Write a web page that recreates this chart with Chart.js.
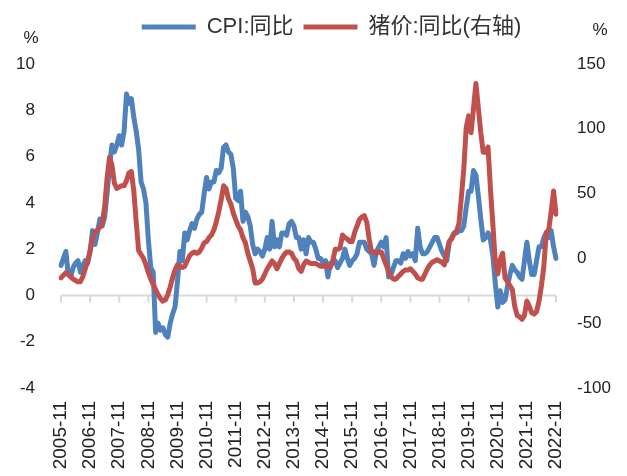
<!DOCTYPE html>
<html>
<head>
<meta charset="utf-8">
<script src="https://cdn.jsdelivr.net/npm/chart.js@4"></script>
<style>
  html, body { margin: 0; padding: 0; background: #fff; }
</style>
</head>
<body>
<canvas id="chart" width="627" height="476"></canvas>
<script>
// monthly categories, 2005-11 .. 2022-11
const months = [];
for (let y = 2005, m = 11; y < 2022 || (y === 2022 && m <= 11); m++) {
    if (m > 12) { m = 1; y++; }
    months.push(y + '-' + String(m).padStart(2, '0'));
}

// CPI yoy, %
const cpi = [
    1.3, 1.6,
    1.9, 0.9, 0.8, 1.2, 1.4, 1.5, 1.0, 1.3, 1.5, 1.4, 1.9, 2.8,
    2.2, 2.7, 3.3, 3.0, 3.4, 4.4, 5.6, 6.5, 6.2, 6.5, 6.9, 6.5,
    7.1, 8.7, 8.3, 8.5, 7.7, 7.1, 6.3, 4.9, 4.6, 4.0, 2.4, 1.2,
    1.0, -1.6, -1.2, -1.5, -1.4, -1.7, -1.8, -1.2, -0.8, -0.5, 0.6, 1.9,
    1.5, 2.7, 2.4, 2.8, 3.1, 2.9, 3.3, 3.5, 3.6, 4.4, 5.1, 4.6,
    4.9, 4.9, 5.4, 5.3, 5.5, 6.4, 6.5, 6.2, 6.1, 5.5, 4.2, 4.1,
    4.5, 3.2, 3.6, 3.4, 3.0, 2.2, 1.8, 2.0, 1.9, 1.7, 2.0, 2.5,
    2.0, 3.2, 2.1, 2.4, 2.1, 2.7, 2.7, 2.6, 3.1, 3.2, 3.0, 2.5,
    2.5, 2.0, 2.4, 1.8, 2.5, 2.3, 2.3, 2.0, 1.6, 1.6, 1.4, 1.5,
    0.8, 1.4, 1.4, 1.5, 1.2, 1.4, 1.6, 2.0, 1.6, 1.3, 1.5, 1.6,
    1.8, 2.3, 2.3, 2.3, 2.0, 1.9, 1.8, 1.3, 1.9, 2.1, 2.3, 2.1,
    2.5, 0.8, 0.9, 1.2, 1.5, 1.5, 1.4, 1.8, 1.6, 1.9, 1.7, 1.8,
    1.5, 2.9, 2.1, 1.8, 1.8, 1.9, 2.1, 2.3, 2.5, 2.5, 2.2, 1.9,
    1.7, 1.5, 2.3, 2.5, 2.7, 2.7, 2.8, 2.8, 3.0, 3.8, 4.5, 4.5,
    5.4, 5.2, 4.3, 3.3, 2.4, 2.5, 2.7, 2.4, 1.7, 0.5, -0.5, 0.2,
    -0.3, -0.2, 0.4, 0.9, 1.3, 1.1, 1.0, 0.8, 0.7, 1.5, 2.3, 1.5,
    0.9, 0.9, 1.5, 2.1, 2.1, 2.5, 2.7, 2.5, 2.8, 2.1, 1.6
];

// pig price yoy, % (right axis)
const pig = [
    -15, -13,
    -11, -12, -14, -16, -17, -18, -18, -14, -8, -2, 6, 16,
    20, 22, 24, 27, 40, 62, 78, 72, 58, 54, 55, 56,
    56, 60, 66, 67, 52, 28, 6, 3, 0, -5, -11, -16,
    -20, -24, -28, -31, -33, -32, -28, -22, -15, -9, -5, -6,
    -7, -6, -2, 2, 4, 5, 4, 5, 8, 12, 13, 16,
    18, 22, 28, 36, 45, 56, 54, 46, 42, 35, 30, 25,
    22, 16, 12, 4, -2, -8, -19, -19, -18, -16, -12, -8,
    -5, -2, -4, -8, -4, 0, 3, 5, 5, 4, 0, -2,
    -8, -10, -5, -2, -3, -4, -4, -4, -5, -6, -6, -5,
    -6, -7, -2, 7, 7, 8, 18, 16, 15, 13, 13, 20,
    25, 30, 32, 33, 28, 15, 5, 5, 4, 5, 5, 0,
    -5, -10, -14, -16, -16, -14, -12, -10, -9, -9, -8, -10,
    -12, -15, -16, -16, -12, -8, -5, -3, -2, -1, -2, -3,
    -5, 5, 13, 15, 19, 21, 27, 47, 69, 101, 110, 97,
    116, 135, 116, 97, 82, 82, 86, 53, 26, -3, -12, -1,
    4, -15, -18, -21, -24, -37, -44, -45, -47, -44, -33, -37,
    -42, -43, -41, -33, -21, -6, 20, 22, 36, 52, 34
];

const leftTicks = { min: -4, max: 10, step: 2 };
const rightTicks = { min: -100, max: 150, step: 50 };

const blue = '#4f81bd';
const red = '#c0504d';
const fontFamily = "'Liberation Sans', 'Noto Sans CJK SC', sans-serif";
const textColor = '#222';

// x axis line drawn at the left axis zero, with a tick mark every year
const zeroAxis = {
    id: 'zeroAxis',
    beforeDatasetsDraw(chart) {
        const { ctx, chartArea, scales: { x, y } } = chart;
        const y0 = y.getPixelForValue(0);
        ctx.save();
        ctx.strokeStyle = '#d9d9d9';
        ctx.lineWidth = 2;
        ctx.beginPath();
        ctx.moveTo(chartArea.left, y0);
        ctx.lineTo(chartArea.right, y0);
        for (let i = 0; i < months.length; i += 12) {
            const px = x.getPixelForValue(i);
            ctx.moveTo(px, y0);
            ctx.lineTo(px, y0 + 7);
        }
        ctx.stroke();
        ctx.restore();
    }
};

// "%" unit labels above both value axes
const unitLabels = {
    id: 'unitLabels',
    afterDraw(chart) {
        const { ctx, chartArea, scales: { y, y1 } } = chart;
        ctx.save();
        ctx.font = '17px ' + fontFamily;
        ctx.fillStyle = textColor;
        ctx.textAlign = 'center';
        ctx.textBaseline = 'middle';
        ctx.fillText('%', y.right - 30, chartArea.top - 26);
        ctx.fillText('%', y1.left + 44, chartArea.top - 34);
        ctx.restore();
    }
};

// the legend in the reference sits a little right of centre
const legendShift = {
    id: 'legendShift',
    afterLayout(chart) {
        chart.legend.left += 18;
        chart.legend.right += 18;
    }
};

const ctx = document.getElementById('chart').getContext('2d');
new Chart(ctx, {
    type: 'line',
    data: {
        labels: months,
        datasets: [{
            label: 'CPI:同比',
            data: cpi,
            yAxisID: 'y',
            borderColor: blue,
            backgroundColor: blue,
            borderWidth: 5,
            pointRadius: 0,
            borderJoinStyle: 'round',
            borderCapStyle: 'round',
            order: 1
        }, {
            label: '猪价:同比(右轴)',
            data: pig,
            yAxisID: 'y1',
            borderColor: red,
            backgroundColor: red,
            borderWidth: 5,
            pointRadius: 0,
            borderJoinStyle: 'round',
            borderCapStyle: 'round',
            order: 0 // drawn on top
        }]
    },
    options: {
        responsive: false,
        animation: false,
        layout: { padding: { top: 6, left: 0, right: 0, bottom: 0 } },
        plugins: {
            legend: {
                position: 'top',
                labels: {
                    font: { size: 22, family: fontFamily },
                    color: '#333',
                    boxWidth: 54,
                    boxHeight: 5,
                    padding: 10,
                    sort: (a, b) => a.datasetIndex - b.datasetIndex,
                    generateLabels: chart => Chart.defaults.plugins.legend.labels.generateLabels(chart)
                        .map(item => Object.assign(item, { lineWidth: 0 }))
                }
            },
            // empty title used as a spacer between legend and plot
            title: {
                display: true,
                text: ' ',
                position: 'top',
                weight: 500,
                font: { size: 10, lineHeight: 1 },
                padding: { top: 0, bottom: 6 }
            },
            tooltip: { enabled: false }
        },
        scales: {
            x: {
                type: 'category',
                grid: { display: false, drawTicks: false },
                border: { display: false },
                ticks: {
                    autoSkip: false,
                    maxRotation: 90,
                    minRotation: 90,
                    padding: 13,
                    color: textColor,
                    font: { size: 19, family: fontFamily },
                    callback: (v, i) => (i % 12 === 0 ? months[i] : '')
                },
                afterFit: s => { s.height = 88; }
            },
            y: {
                position: 'left',
                min: leftTicks.min,
                max: leftTicks.max,
                grid: { display: false, drawTicks: false },
                border: { display: false },
                ticks: {
                    stepSize: leftTicks.step,
                    padding: 26,
                    color: textColor,
                    font: { size: 17, family: fontFamily }
                },
                afterFit: s => { s.width = 61; }
            },
            y1: {
                position: 'right',
                min: rightTicks.min,
                max: rightTicks.max,
                grid: { display: false, drawTicks: false },
                border: { display: false },
                ticks: {
                    stepSize: rightTicks.step,
                    padding: 21,
                    color: textColor,
                    font: { size: 17, family: fontFamily }
                },
                afterFit: s => { s.width = 71; }
            }
        }
    },
    plugins: [zeroAxis, unitLabels, legendShift]
});
</script>
</body>
</html>
